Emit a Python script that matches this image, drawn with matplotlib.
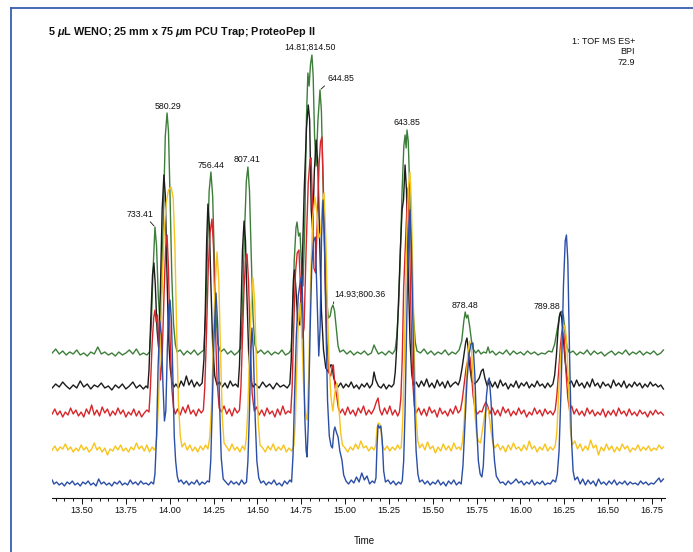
import numpy as np
import matplotlib
matplotlib.use("Agg")
import matplotlib.pyplot as plt
from matplotlib.lines import Line2D
from matplotlib.ticker import MultipleLocator

plt.rcParams['font.family'] = ['Liberation Sans', 'DejaVu Sans']
plt.rcParams['mathtext.fontset'] = 'custom'
plt.rcParams['mathtext.it'] = 'Liberation Sans:italic:bold'
plt.rcParams['mathtext.rm'] = 'Liberation Sans:bold'

# BPI traces: (retention time / min, intensity above own baseline)
green = [(13.33, 3), (13.35, 7), (13.37, 2), (13.39, 5), (13.41, 1), (13.43, 4), (13.45, 2), (13.47, 6), (13.49, 1),
         (13.51, 3), (13.53, 0), (13.55, 4), (13.57, 2), (13.59, 9), (13.61, 2), (13.63, 4), (13.65, 1), (13.67, 3),
         (13.69, 0), (13.71, 4), (13.73, 1), (13.75, 3), (13.77, 6), (13.79, 2), (13.81, 7), (13.83, 1), (13.85, 3),
         (13.87, 1), (13.885, 4), (13.895, 30), (13.905, 85), (13.916, 129), (13.925, 110), (13.935, 60), (13.945, 32),
         (13.955, 70), (13.965, 150), (13.975, 220), (13.985, 243), (13.993, 225), (14.002, 160), (14.012, 80),
         (14.022, 32), (14.032, 12), (14.042, 4), (14.06, 6), (14.08, 1), (14.10, 5), (14.12, 2), (14.14, 6), (14.16, 1),
         (14.18, 4), (14.195, 6), (14.205, 40), (14.215, 105), (14.225, 165), (14.235, 184), (14.245, 160), (14.255, 95),
         (14.265, 38), (14.275, 12), (14.29, 4), (14.31, 7), (14.33, 2), (14.35, 5), (14.37, 1), (14.39, 4), (14.405, 8),
         (14.415, 45), (14.425, 115), (14.437, 175), (14.446, 189), (14.455, 165), (14.465, 100), (14.475, 40),
         (14.485, 12), (14.50, 3), (14.52, 6), (14.54, 2), (14.56, 5), (14.58, 1), (14.60, 4), (14.62, 2), (14.64, 6),
         (14.66, 1), (14.68, 3), (14.692, 6), (14.70, 35), (14.71, 95), (14.72, 128), (14.726, 134), (14.735, 120),
         (14.743, 123), (14.752, 90), (14.76, 70), (14.77, 130), (14.78, 240), (14.788, 283), (14.795, 270),
         (14.803, 292), (14.811, 301), (14.818, 280), (14.826, 220), (14.835, 190), (14.845, 235), (14.857, 266),
         (14.865, 245), (14.875, 170), (14.885, 100), (14.895, 55), (14.905, 38), (14.915, 40), (14.923, 48),
         (14.931, 51), (14.94, 45), (14.95, 28), (14.96, 10), (14.97, 4), (14.99, 6), (15.01, 2), (15.03, 5), (15.05, 1),
         (15.07, 4), (15.09, 2), (15.11, 5), (15.13, 1), (15.15, 3), (15.165, 11), (15.175, 7), (15.19, 2), (15.21, 4),
         (15.23, 1), (15.25, 5), (15.27, 2), (15.285, 6), (15.295, 20), (15.305, 50), (15.315, 100), (15.325, 165),
         (15.335, 210), (15.342, 221), (15.348, 208), (15.353, 226), (15.36, 215), (15.37, 160), (15.38, 90),
         (15.39, 40), (15.40, 14), (15.41, 5), (15.43, 3), (15.45, 7), (15.47, 2), (15.49, 5), (15.51, 1), (15.53, 4),
         (15.55, 2), (15.57, 6), (15.59, 1), (15.61, 4), (15.63, 2), (15.65, 6), (15.665, 15), (15.677, 35),
         (15.685, 44), (15.692, 38), (15.70, 41), (15.71, 30), (15.72, 16), (15.73, 7), (15.745, 3), (15.76, 6),
         (15.775, 2), (15.79, 4), (15.805, 3), (15.815, 9), (15.825, 3), (15.84, 5), (15.86, 1), (15.88, 4), (15.90, 2),
         (15.92, 6), (15.94, 1), (15.96, 5), (15.98, 2), (16.00, 4), (16.02, 1), (16.04, 5), (16.06, 2), (16.08, 4),
         (16.10, 1), (16.12, 3), (16.14, 2), (16.16, 5), (16.18, 4), (16.195, 12), (16.205, 22), (16.215, 32),
         (16.225, 42), (16.237, 45), (16.245, 40), (16.255, 22), (16.265, 9), (16.28, 3), (16.30, 5), (16.32, 1),
         (16.34, 4), (16.36, 2), (16.38, 6), (16.40, 1), (16.42, 5), (16.44, 2), (16.46, 4), (16.48, 0), (16.50, 3),
         (16.52, 5), (16.54, 1), (16.56, 4), (16.58, 2), (16.60, 6), (16.62, 1), (16.64, 4), (16.66, 2), (16.68, 5),
         (16.70, 1), (16.72, 4), (16.74, 2), (16.76, 5), (16.78, 1), (16.80, 3), (16.815, 6)]

black = [(13.33, 2), (13.35, 6), (13.37, 3), (13.39, 8), (13.41, 4), (13.43, 1), (13.45, 5), (13.47, 2), (13.49, 9),
         (13.51, 3), (13.53, 6), (13.55, 1), (13.57, 5), (13.59, 3), (13.61, 7), (13.63, 2), (13.65, 4), (13.67, 0),
         (13.69, 5), (13.71, 2), (13.73, 6), (13.75, 1), (13.77, 4), (13.79, 8), (13.81, 2), (13.83, 5), (13.85, 1),
         (13.865, 4), (13.875, 2), (13.882, 20), (13.892, 70), (13.902, 115), (13.91, 127), (13.918, 105),
         (13.928, 60), (13.937, 42), (13.947, 100), (13.957, 180), (13.967, 215), (13.975, 195), (13.984, 120),
         (13.993, 55), (14.003, 22), (14.013, 8), (14.025, 3), (14.035, 6), (14.05, 2), (14.065, 9), (14.08, 4),
         (14.095, 14), (14.11, 5), (14.125, 10), (14.14, 3), (14.155, 8), (14.17, 4), (14.185, 7), (14.195, 30),
         (14.203, 80), (14.211, 150), (14.218, 186), (14.226, 165), (14.235, 105), (14.245, 45), (14.257, 14),
         (14.27, 5), (14.285, 8), (14.30, 3), (14.315, 7), (14.33, 2), (14.345, 9), (14.36, 4), (14.375, 6), (14.39, 3),
         (14.398, 25), (14.406, 75), (14.415, 140), (14.424, 169), (14.432, 150), (14.441, 90), (14.45, 38),
         (14.462, 10), (14.475, 3), (14.49, 6), (14.51, 2), (14.53, 8), (14.55, 3), (14.57, 6), (14.59, 1), (14.61, 7),
         (14.63, 3), (14.65, 5), (14.67, 2), (14.685, 6), (14.693, 30), (14.70, 80), (14.706, 112), (14.712, 120),
         (14.72, 100), (14.73, 70), (14.742, 65), (14.755, 120), (14.767, 200), (14.78, 262), (14.79, 285),
         (14.798, 270), (14.807, 180), (14.815, 160), (14.825, 220), (14.835, 250), (14.845, 225), (14.855, 150),
         (14.865, 80), (14.877, 40), (14.89, 22), (14.905, 18), (14.917, 25), (14.925, 25), (14.935, 12), (14.948, 6),
         (14.96, 3), (14.975, 7), (14.99, 2), (15.005, 6), (15.02, 3), (15.035, 8), (15.05, 2), (15.065, 5), (15.08, 1),
         (15.095, 6), (15.11, 3), (15.125, 7), (15.14, 2), (15.155, 6), (15.165, 18), (15.175, 10), (15.19, 4),
         (15.205, 2), (15.22, 6), (15.235, 1), (15.25, 5), (15.265, 3), (15.278, 6), (15.286, 18), (15.295, 45),
         (15.305, 90), (15.315, 140), (15.325, 180), (15.333, 190), (15.342, 225), (15.35, 200), (15.36, 120),
         (15.37, 50), (15.38, 16), (15.39, 5), (15.405, 8), (15.42, 3), (15.435, 9), (15.45, 4), (15.465, 11),
         (15.48, 3), (15.495, 7), (15.51, 2), (15.525, 10), (15.54, 4), (15.555, 8), (15.57, 2), (15.585, 9), (15.60, 3),
         (15.615, 6), (15.63, 8), (15.645, 5), (15.655, 10), (15.667, 22), (15.678, 36), (15.688, 48), (15.695, 52),
         (15.703, 40), (15.712, 22), (15.722, 9), (15.735, 6), (15.75, 8), (15.765, 12), (15.777, 19), (15.787, 21),
         (15.797, 12), (15.81, 4), (15.825, 9), (15.84, 3), (15.855, 8), (15.87, 2), (15.885, 10), (15.90, 4),
         (15.915, 7), (15.93, 1), (15.945, 6), (15.96, 3), (15.975, 9), (15.99, 2), (16.005, 7), (16.02, 4), (16.035, 8),
         (16.05, 2), (16.065, 6), (16.08, 3), (16.095, 9), (16.11, 4), (16.125, 6), (16.14, 2), (16.155, 7), (16.17, 3),
         (16.185, 6), (16.195, 15), (16.205, 35), (16.214, 60), (16.222, 74), (16.228, 78), (16.235, 72),
         (16.245, 50), (16.255, 28), (16.265, 14), (16.275, 6), (16.29, 9), (16.305, 3), (16.32, 10), (16.335, 4),
         (16.35, 7), (16.365, 2), (16.38, 8), (16.395, 3), (16.41, 11), (16.425, 4), (16.44, 7), (16.455, 2), (16.47, 8),
         (16.485, 4), (16.50, 6), (16.515, 2), (16.53, 10), (16.545, 4), (16.56, 7), (16.575, 3), (16.59, 9),
         (16.605, 2), (16.62, 6), (16.635, 3), (16.65, 8), (16.665, 4), (16.68, 7), (16.695, 2), (16.71, 6),
         (16.725, 3), (16.74, 8), (16.755, 4), (16.77, 6), (16.785, 3), (16.80, 5), (16.815, 1)]

red = [(13.33, 4), (13.345, 9), (13.36, 3), (13.375, 7), (13.39, 1), (13.405, 6), (13.42, 3), (13.435, 10), (13.45, 4),
       (13.465, 8), (13.48, 2), (13.495, 6), (13.51, 1), (13.525, 9), (13.54, 4), (13.555, 13), (13.57, 3), (13.585, 8),
       (13.60, 2), (13.615, 11), (13.63, 5), (13.645, 9), (13.66, 2), (13.675, 7), (13.69, 3), (13.705, 10), (13.72, 4),
       (13.735, 8), (13.75, 1), (13.765, 6), (13.78, 3), (13.795, 9), (13.81, 2), (13.825, 7), (13.84, 1), (13.855, 5),
       (13.87, 8), (13.882, 6), (13.89, 30), (13.90, 75), (13.909, 100), (13.916, 108), (13.923, 96), (13.93, 103),
       (13.938, 70), (13.947, 38), (13.957, 60), (13.967, 120), (13.977, 170), (13.985, 183), (13.993, 150),
       (14.002, 80), (14.012, 30), (14.022, 10), (14.032, 4), (14.045, 9), (14.06, 3), (14.075, 11), (14.09, 5),
       (14.105, 13), (14.12, 4), (14.135, 8), (14.15, 2), (14.165, 9), (14.18, 5), (14.192, 8), (14.20, 30),
       (14.21, 85), (14.22, 150), (14.23, 185), (14.241, 199), (14.25, 170), (14.26, 95), (14.27, 38), (14.282, 10),
       (14.295, 6), (14.31, 12), (14.325, 4), (14.34, 9), (14.355, 2), (14.37, 10), (14.385, 5), (14.398, 8),
       (14.406, 30), (14.415, 80), (14.424, 130), (14.433, 158), (14.441, 164), (14.45, 135), (14.46, 70),
       (14.47, 25), (14.482, 7), (14.495, 11), (14.51, 3), (14.525, 8), (14.54, 2), (14.555, 10), (14.57, 4),
       (14.585, 7), (14.60, 1), (14.615, 9), (14.63, 3), (14.645, 12), (14.66, 4), (14.675, 7), (14.69, 5),
       (14.698, 30), (14.707, 90), (14.717, 145), (14.727, 165), (14.737, 168), (14.746, 130), (14.756, 80),
       (14.766, 90), (14.778, 170), (14.79, 235), (14.80, 258), (14.806, 260), (14.813, 220), (14.822, 150),
       (14.832, 145), (14.842, 200), (14.852, 255), (14.86, 276), (14.868, 281), (14.876, 230), (14.886, 140),
       (14.897, 75), (14.908, 45), (14.918, 42), (14.926, 50), (14.933, 53), (14.942, 32), (14.952, 22), (14.962, 10),
       (14.972, 5), (14.985, 9), (15.00, 3), (15.015, 11), (15.03, 4), (15.045, 8), (15.06, 2), (15.075, 10),
       (15.09, 5), (15.105, 12), (15.12, 3), (15.135, 8), (15.15, 4), (15.165, 9), (15.178, 16), (15.188, 20),
       (15.198, 8), (15.21, 3), (15.225, 10), (15.24, 4), (15.255, 12), (15.27, 3), (15.285, 8), (15.30, 2),
       (15.31, 6), (15.318, 20), (15.326, 60), (15.334, 130), (15.342, 165), (15.35, 200), (15.359, 230),
       (15.367, 185), (15.376, 100), (15.385, 38), (15.395, 12), (15.405, 5), (15.42, 10), (15.435, 3), (15.45, 9),
       (15.465, 2), (15.48, 11), (15.495, 5), (15.51, 8), (15.525, 1), (15.54, 10), (15.555, 4), (15.57, 7),
       (15.585, 2), (15.60, 9), (15.615, 4), (15.63, 12), (15.645, 5), (15.658, 8), (15.668, 18), (15.68, 35),
       (15.69, 50), (15.70, 58), (15.712, 61), (15.72, 45), (15.73, 22), (15.742, 8), (15.755, 4), (15.768, 7),
       (15.78, 6), (15.792, 12), (15.803, 16), (15.813, 12), (15.825, 4), (15.84, 10), (15.855, 3), (15.87, 8),
       (15.885, 2), (15.90, 11), (15.915, 5), (15.93, 9), (15.945, 2), (15.96, 7), (15.975, 3), (15.99, 10),
       (16.005, 4), (16.02, 8), (16.035, 1), (16.05, 6), (16.065, 3), (16.08, 10), (16.095, 4), (16.11, 8),
       (16.125, 2), (16.14, 9), (16.155, 4), (16.17, 7), (16.185, 3), (16.198, 8), (16.207, 22), (16.217, 45),
       (16.227, 70), (16.235, 85), (16.242, 91), (16.25, 78), (16.26, 45), (16.27, 20), (16.28, 8), (16.292, 12),
       (16.305, 4), (16.32, 9), (16.335, 3), (16.35, 7), (16.365, 2), (16.38, 10), (16.395, 4), (16.41, 8),
       (16.425, 2), (16.44, 6), (16.455, 3), (16.47, 9), (16.485, 1), (16.50, 7), (16.515, 3), (16.53, 8),
       (16.545, 2), (16.56, 10), (16.575, 4), (16.59, 7), (16.605, 2), (16.62, 9), (16.635, 3), (16.65, 6),
       (16.665, 2), (16.68, 8), (16.695, 4), (16.71, 6), (16.725, 1), (16.74, 7), (16.755, 3), (16.77, 8),
       (16.785, 4), (16.80, 6), (16.815, 3)]

yellow = [(13.33, 3), (13.345, 7), (13.36, 2), (13.375, 6), (13.39, 4), (13.405, 9), (13.42, 3), (13.435, 6),
          (13.45, 1), (13.465, 5), (13.48, 2), (13.495, 8), (13.51, 3), (13.525, 6), (13.54, 1), (13.555, 4),
          (13.57, 10), (13.585, 3), (13.60, 6), (13.615, 1), (13.63, 5), (13.645, -2), (13.66, 4), (13.675, 2),
          (13.69, 7), (13.705, 3), (13.72, 8), (13.735, 2), (13.75, 5), (13.765, 1), (13.78, 6), (13.795, 3),
          (13.81, 10), (13.825, 4), (13.84, 7), (13.855, 2), (13.87, 8), (13.885, 1), (13.90, 6), (13.912, 3),
          (13.92, 6), (13.928, 20), (13.937, 55), (13.947, 110), (13.957, 170), (13.968, 220), (13.98, 250),
          (13.993, 263), (14.008, 266), (14.02, 255), (14.03, 205), (14.04, 120), (14.05, 50), (14.06, 18), (14.07, 6),
          (14.085, 10), (14.10, 3), (14.115, 8), (14.13, 2), (14.145, 6), (14.16, 1), (14.175, 7), (14.19, 3),
          (14.205, 8), (14.218, 4), (14.228, 15), (14.238, 45), (14.248, 105), (14.258, 165), (14.27, 201),
          (14.28, 172), (14.29, 100), (14.30, 35), (14.31, 10), (14.325, 6), (14.34, 2), (14.355, 9), (14.37, 3),
          (14.385, 6), (14.40, 1), (14.415, 7), (14.428, 3), (14.437, 15), (14.446, 45), (14.455, 100), (14.465, 150),
          (14.475, 175), (14.485, 150), (14.495, 85), (14.505, 30), (14.515, 8), (14.53, 5), (14.545, 1), (14.56, 7),
          (14.575, 3), (14.59, 9), (14.605, 2), (14.62, 6), (14.635, 3), (14.65, 8), (14.665, 1), (14.68, 5),
          (14.695, 2), (14.708, 7), (14.716, 30), (14.724, 80), (14.733, 130), (14.743, 150), (14.753, 120),
          (14.763, 70), (14.773, 40), (14.783, 33), (14.793, 80), (14.803, 170), (14.815, 235), (14.828, 256),
          (14.84, 240), (14.85, 215), (14.86, 220), (14.87, 250), (14.88, 260), (14.89, 215), (14.90, 140),
          (14.91, 85), (14.92, 55), (14.93, 42), (14.943, 62), (14.954, 70), (14.965, 45), (14.975, 20), (14.985, 8),
          (15.00, 5), (15.015, 1), (15.03, 6), (15.045, 3), (15.06, 9), (15.075, 4), (15.09, 12), (15.105, 5),
          (15.12, 7), (15.135, 2), (15.15, 6), (15.165, 3), (15.175, 8), (15.182, 25), (15.19, 30), (15.198, 29),
          (15.205, 22), (15.212, 8), (15.225, 3), (15.24, 7), (15.255, 2), (15.27, 6), (15.285, 3), (15.30, 8),
          (15.312, 4), (15.32, 6), (15.328, 30), (15.337, 90), (15.345, 165), (15.353, 225), (15.362, 268),
          (15.37, 281), (15.378, 250), (15.387, 170), (15.396, 90), (15.405, 35), (15.415, 12), (15.425, 5),
          (15.44, 9), (15.455, 3), (15.47, 11), (15.485, 4), (15.50, 7), (15.515, 0), (15.53, 6), (15.545, 2),
          (15.56, 9), (15.575, 3), (15.59, 7), (15.605, 2), (15.62, 10), (15.635, 4), (15.65, 6), (15.66, 3),
          (15.67, 12), (15.68, 35), (15.69, 70), (15.70, 100), (15.71, 112), (15.72, 105), (15.73, 75), (15.74, 40),
          (15.75, 18), (15.76, 12), (15.772, 10), (15.785, 25), (15.797, 40), (15.808, 46), (15.818, 42),
          (15.83, 25), (15.842, 10), (15.855, 5), (15.87, 9), (15.885, 3), (15.90, 7), (15.915, 1), (15.93, 8),
          (15.945, 3), (15.96, 10), (15.975, 4), (15.99, 6), (16.005, 2), (16.02, 8), (16.035, 3), (16.05, 12),
          (16.065, 4), (16.08, 7), (16.095, 1), (16.11, 6), (16.125, 3), (16.14, 9), (16.155, 2), (16.17, 6),
          (16.185, 3), (16.198, 7), (16.207, 20), (16.217, 55), (16.228, 95), (16.24, 120), (16.254, 128),
          (16.264, 110), (16.274, 65), (16.284, 25), (16.295, 8), (16.31, 12), (16.325, 4), (16.34, 9), (16.355, 2),
          (16.37, 7), (16.385, 3), (16.40, 13), (16.415, 5), (16.43, 8), (16.445, -2), (16.46, 6), (16.475, 2),
          (16.49, 9), (16.505, 3), (16.52, 7), (16.535, 1), (16.55, 6), (16.565, 2), (16.58, 9), (16.595, 4),
          (16.61, 7), (16.625, 1), (16.64, 5), (16.655, 3), (16.67, 8), (16.685, 2), (16.70, 6), (16.715, 3),
          (16.73, 7), (16.745, 2), (16.76, 5), (16.775, 3), (16.79, 8), (16.805, 4), (16.815, 6)]

blue = [(13.33, 6), (13.34, 2), (13.355, 4), (13.37, 1), (13.385, 3), (13.40, 0), (13.415, 4), (13.43, 2), (13.445, 5),
        (13.46, 1), (13.475, 3), (13.49, 0), (13.505, 4), (13.52, 2), (13.535, 5), (13.55, 1), (13.565, 3), (13.58, 0),
        (13.595, 7), (13.61, 2), (13.625, 4), (13.64, 1), (13.655, 3), (13.67, 0), (13.685, 4), (13.70, 2), (13.715, 5),
        (13.73, 1), (13.745, 3), (13.76, 1), (13.775, 6), (13.79, 2), (13.805, 4), (13.82, 1), (13.835, 5), (13.85, 2),
        (13.865, 3), (13.88, 1), (13.895, 4), (13.908, 2), (13.916, 12), (13.925, 50), (13.934, 120), (13.944, 165),
        (13.953, 150), (13.962, 100), (13.97, 65), (13.978, 75), (13.987, 140), (13.995, 180), (14.002, 186),
        (14.01, 165), (14.018, 110), (14.026, 50), (14.034, 25), (14.043, 10), (14.052, 4), (14.065, 6), (14.08, 2),
        (14.095, 5), (14.11, 1), (14.125, 4), (14.14, 2), (14.155, 6), (14.17, 1), (14.185, 4), (14.20, 2),
        (14.215, 5), (14.226, 4), (14.234, 25), (14.243, 80), (14.253, 150), (14.264, 193), (14.274, 160),
        (14.284, 85), (14.294, 28), (14.305, 7), (14.32, 4), (14.335, 1), (14.35, 5), (14.365, 2), (14.38, 4),
        (14.395, 1), (14.41, 6), (14.425, 2), (14.438, 4), (14.446, 25), (14.455, 75), (14.462, 130), (14.469, 158),
        (14.477, 135), (14.487, 70), (14.497, 25), (14.508, 8), (14.52, 3), (14.535, 5), (14.55, 1), (14.565, 4),
        (14.58, 2), (14.595, 6), (14.61, 1), (14.625, 3), (14.64, 0), (14.655, 5), (14.67, 2), (14.685, 6),
        (14.695, 4), (14.703, 30), (14.712, 90), (14.722, 150), (14.733, 190), (14.745, 205), (14.754, 211),
        (14.762, 150), (14.77, 70), (14.778, 35), (14.783, 29), (14.79, 60), (14.80, 150), (14.81, 220), (14.82, 245),
        (14.83, 249), (14.84, 190), (14.85, 130), (14.858, 160), (14.866, 250), (14.874, 286), (14.882, 250),
        (14.89, 170), (14.90, 85), (14.91, 50), (14.92, 40), (14.928, 38), (14.936, 55), (14.942, 59), (14.95, 54),
        (14.96, 49), (14.97, 35), (14.982, 26), (14.992, 11), (15.005, 5), (15.02, 2), (15.035, 6), (15.05, 3),
        (15.065, 9), (15.08, 4), (15.095, 13), (15.11, 6), (15.125, 10), (15.14, 2), (15.155, 5), (15.168, 3),
        (15.176, 8), (15.182, 40), (15.188, 61), (15.196, 58), (15.204, 60), (15.212, 45), (15.22, 15), (15.23, 4),
        (15.245, 6), (15.26, 2), (15.275, 5), (15.29, 1), (15.305, 4), (15.318, 2), (15.326, 5), (15.334, 25),
        (15.342, 75), (15.35, 150), (15.357, 215), (15.364, 262), (15.37, 276), (15.378, 240), (15.387, 160),
        (15.396, 80), (15.405, 35), (15.415, 12), (15.425, 4), (15.44, 6), (15.455, 2), (15.47, 5), (15.485, 1),
        (15.50, 4), (15.515, 2), (15.53, 6), (15.545, 1), (15.56, 4), (15.575, 0), (15.59, 5), (15.605, 2), (15.62, 6),
        (15.635, 1), (15.65, 4), (15.662, 2), (15.672, 20), (15.683, 60), (15.695, 105), (15.707, 132),
        (15.718, 142), (15.729, 143), (15.74, 110), (15.75, 60), (15.76, 25), (15.77, 12), (15.78, 9), (15.788, 20),
        (15.797, 55), (15.806, 90), (15.815, 105), (15.822, 108), (15.832, 85), (15.842, 50), (15.852, 25),
        (15.862, 10), (15.875, 6), (15.885, 3), (15.90, 4), (15.915, 1), (15.93, 5), (15.945, 2), (15.96, 4),
        (15.975, 7), (15.99, 3), (16.005, 5), (16.02, 1), (16.035, 4), (16.05, 2), (16.065, 6), (16.08, 1),
        (16.095, 4), (16.11, 2), (16.125, 5), (16.14, 1), (16.155, 3), (16.17, 2), (16.185, 6), (16.20, 4),
        (16.21, 12), (16.22, 35), (16.232, 100), (16.245, 200), (16.255, 245), (16.262, 251), (16.27, 225),
        (16.28, 130), (16.29, 50), (16.30, 15), (16.31, 6), (16.325, 9), (16.34, 2), (16.355, 7), (16.37, 1),
        (16.385, 6), (16.40, 2), (16.415, 5), (16.43, 0), (16.445, 7), (16.46, 2), (16.475, 4), (16.49, 1),
        (16.505, 5), (16.52, 2), (16.535, 6), (16.55, 1), (16.565, 4), (16.58, 2), (16.595, 5), (16.61, 1),
        (16.625, 4), (16.64, 2), (16.655, 3), (16.67, 1), (16.685, 5), (16.70, 2), (16.715, 4), (16.73, 1),
        (16.745, 3), (16.76, 2), (16.775, 5), (16.79, 8), (16.80, 4), (16.815, 7)]

# vertical stacking of the overlaid runs
trace_data = [green, black, red, yellow, blue]
trace_offsets = [142, 108, 80, 45, 12]
trace_colors = ['#3d7f3a', '#1c1c1c', '#d7262b', '#f7c31c', '#2b4ea6']

# peak annotations on the top trace: text, peak time, text offset (pt), leader anchor
peak_labels = ["733.41", "580.29", "756.44", "807.41", "14.81;814.50", "644.85",
               "14.93;800.36", "643.85", "878.48", "789.88"]
peak_times = [13.916, 13.985, 14.235, 14.446, 14.811, 14.857, 14.931, 15.353, 15.685, 16.237]
label_offsets = [(-11, 9), (0.5, 5), (0, 5), (-0.5, 5.5), (-1.5, 5.5), (15, 8),
                 (19.5, 7.5), (0, 5.5), (0, 5), (-11, 3.5)]
leader_anchor = [(0.8, 0), None, None, None, None, (0, 0), (0, 0), None, None, None]

W, H = 693, 552
fig = plt.figure(figsize=(W / 100, H / 100), dpi=100)
ax = fig.add_axes([52 / W, 1 - 498 / H, (665 - 52) / W, (498 - 45) / H])

for pts, off, col in zip(trace_data, trace_offsets, trace_colors):
    t, y = zip(*pts)
    ax.plot(t, np.array(y) + off, color=col, lw=1.0, solid_joinstyle='round')

green_lookup = dict(green)
for text, t0, (dx, dy), anchor in zip(peak_labels, peak_times, label_offsets, leader_anchor):
    y0 = green_lookup[t0] + trace_offsets[0]
    if anchor is None:
        ax.annotate(text, (t0, y0), xytext=(dx, dy), textcoords='offset points',
                    ha='center', va='center', fontsize=6.3, color='#111111')
    else:
        ax.annotate(text, (t0, y0), xytext=(dx, dy), textcoords='offset points',
                    ha='center', va='center', fontsize=6.3, color='#111111',
                    arrowprops=dict(arrowstyle='-', color='#111111', lw=0.6,
                                    shrinkA=0, shrinkB=1, relpos=anchor))

ax.set_xlim(13.329, 16.824)
ax.set_ylim(0, 453)
ax.xaxis.set_major_locator(MultipleLocator(0.25))
ax.xaxis.set_minor_locator(MultipleLocator(0.05))
ax.xaxis.set_major_formatter(plt.FuncFormatter(lambda v, p: f"{v:.2f}"))
ax.tick_params(axis='x', which='major', direction='out', length=4, width=0.7,
               labelsize=6.6, pad=2, colors='#111111')
ax.tick_params(axis='x', which='minor', direction='out', length=2.5, width=0.7, colors='#111111')
ax.set_yticks([])
for side in ['left', 'top', 'right']:
    ax.spines[side].set_visible(False)
ax.spines['bottom'].set_linewidth(0.8)
ax.spines['bottom'].set_color('#111111')
ax.patch.set_alpha(0)

fig.text(48 / W, 1 - 32 / H, r"5 $\mu$L WENO; 25 mm x 75 $\mu$m PCU Trap; ProteoPep II",
         fontsize=7.85, fontweight='bold', va='center', ha='left', color='#111111')
for txt, yy in zip(["1: TOF MS ES+", "BPI", "72.9"], [41, 51, 62]):
    fig.text(635 / W, 1 - yy / H, txt, fontsize=6.5, ha='right', va='center', color='#111111')
fig.text(364 / W, 1 - 541 / H, "Time", fontsize=7, ha='center', va='center', color='#111111')

# partial page frame
frame_col = '#3a5fb0'
fig.add_artist(Line2D([11 / W, 11 / W], [0, 1 - 8 / H], color=frame_col, lw=1.3))
fig.add_artist(Line2D([11 / W, 1], [1 - 8 / H, 1 - 8 / H], color=frame_col, lw=1.3))

fig.savefig("out.png", dpi=100)
